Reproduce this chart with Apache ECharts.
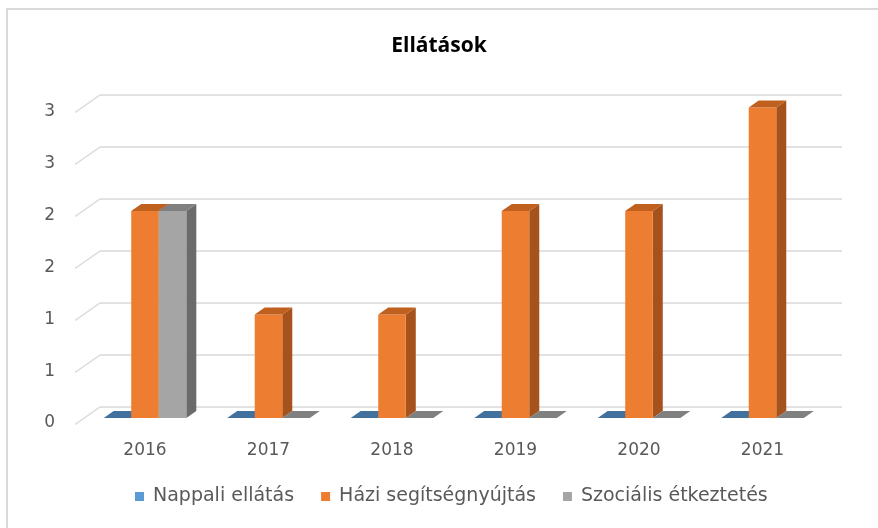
<!DOCTYPE html>
<html><head><meta charset="utf-8">
<script src="https://cdn.jsdelivr.net/npm/echarts@6/dist/echarts.min.js"></script>
<style>html,body{margin:0;padding:0;background:#fff}#c{width:878px;height:528px}</style>
</head><body><div id="c"></div>
<script>
const categories = ['2016','2017','2018','2019','2020','2021'];
const seriesNames = ['Nappali ellátás','Házi segítségnyújtás','Szociális étkeztetés'];
const nappali = [0,0,0,0,0,0];
const hazi = [2,1,1,2,2,3];
const szocialis = [2,0,0,0,0,0];
const yTicks = [0,0.5,1,1.5,2,2.5,3];
const yTickLabels = ['0','1','1','2','2','3','3'];

const FONT = 'DejaVu Sans';
const palette = [
  {front:'#5B9BD5', side:'#41719C', top:'#41719C'},
  {front:'#ED7D31', side:'#A5521C', top:'#C0601F'},
  {front:'#A5A5A5', side:'#6B6B6B', top:'#808080'}
];
const DX = 10, DY = 7;

function barSeries(name, values, s){
  return {
    name: name, type:'custom', xAxisIndex:0, yAxisIndex:0,
    itemStyle:{color: palette[s].front},
    data: values.map((v,i)=>[i,v]),
    renderItem: function(params, api){
      const idx = api.value(0), val = api.value(1);
      const c = api.coord([idx, val]);
      const b = api.coord([idx, 0]);
      const bw = api.size([1,0])[0]*0.223;
      const x0 = c[0] + (s-1)*bw - bw/2;
      const yt = c[1], yb = b[1];
      const children = [];
      if (yb - yt > 0.5) {
        children.push({type:'polygon', shape:{points:[[x0+bw,yt],[x0+bw+DX,yt-DY],[x0+bw+DX,yb-DY],[x0+bw,yb]]}, style:{fill:palette[s].side}});
        children.push({type:'rect', shape:{x:x0,y:yt,width:bw,height:yb-yt}, style:{fill:palette[s].front}});
      }
      children.push({type:'polygon', shape:{points:[[x0,yt],[x0+DX,yt-DY],[x0+bw+DX,yt-DY],[x0+bw,yt]]}, style:{fill:palette[s].top}});
      return {type:'group', children: children};
    }
  };
}

const chart = echarts.init(document.getElementById('c'), null, {renderer:'canvas'});
chart.setOption({
  backgroundColor:'#fff',
  animation:false,
  title:{text:'Ellátások', left:'center', top:31, textStyle:{fontFamily:'Open Sans', fontSize:21, fontWeight:'bold', color:'#000'}},
  legend:{bottom:17, left:130, icon:'rect', itemWidth:9, itemHeight:9, itemGap:27,
    textStyle:{fontFamily:FONT, fontSize:19, color:'#595959', padding:[0,0,0,4]}, data:seriesNames},
  graphic:[{type:'rect', shape:{x:7,y:9,width:900,height:600}, style:{fill:'none', stroke:'#d9d9d9', lineWidth:2}, silent:true, z:-10}],
  grid:[
    {left:83.25, right:53.75, top:107.5, bottom:110},
    {left:100, right:36, top:95, bottom:121},
    {left:62, right:700, top:112, bottom:105}
  ],
  xAxis:[
    {gridIndex:0, type:'category', data:categories, axisLine:{show:false}, axisTick:{show:false},
     axisLabel:{margin:24, fontFamily:FONT, fontSize:17, color:'#595959'}},
    {gridIndex:1, type:'value', min:0, max:1, show:false},
    {gridIndex:2, type:'value', min:0, max:1, show:false}
  ],
  yAxis:[
    {gridIndex:0, type:'value', min:0, max:3, interval:0.5, axisLabel:{show:false}, splitLine:{show:false}, axisLine:{show:false}, axisTick:{show:false}},
    {gridIndex:1, type:'value', min:0, max:3, interval:0.5, axisLabel:{show:false}, splitLine:{show:true, lineStyle:{color:'#d9d9d9', width:1.5}}, axisLine:{show:false}, axisTick:{show:false}},
    {gridIndex:2, type:'value', min:0, max:3, interval:0.5, splitLine:{show:false}, axisLine:{show:false}, axisTick:{show:false},
     axisLabel:{margin:7, fontFamily:FONT, fontSize:17, color:'#595959', formatter:function(v){const k=yTicks.indexOf(v);return k>=0?yTickLabels[k]:'';}}}
  ],
  series:[
    {type:'custom', xAxisIndex:1, yAxisIndex:1, silent:true, data: yTicks.map(v=>[0,v]),
     renderItem:function(params, api){
       const p = api.coord([0, api.value(1)]);
       return {type:'line', shape:{x1:p[0],y1:p[1],x2:p[0]-25,y2:p[1]+17.5}, style:{stroke:'#d9d9d9', lineWidth:1.5}};
     }},
    barSeries(seriesNames[0], nappali, 0),
    barSeries(seriesNames[1], hazi, 1),
    barSeries(seriesNames[2], szocialis, 2)
  ]
});
</script></body></html>
